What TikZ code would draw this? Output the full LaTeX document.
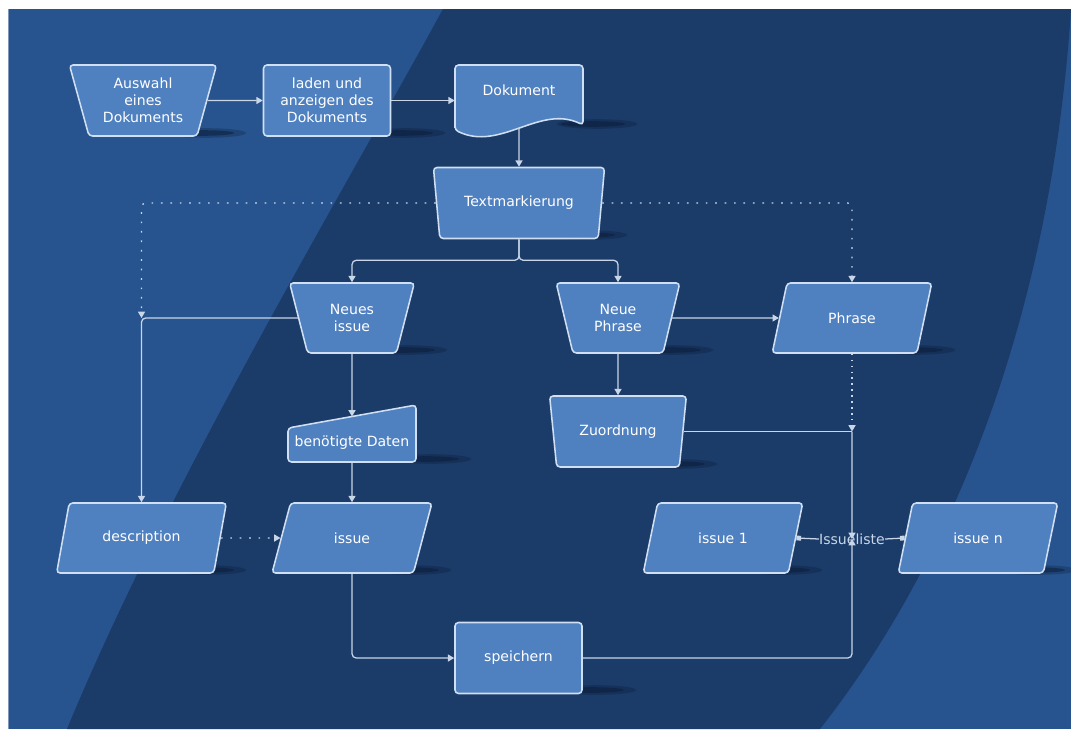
\documentclass[tikz,border=0pt]{standalone}
\usepackage{fontspec}
\setmainfont{DejaVu Sans}
\usetikzlibrary{arrows.meta,calc,shapes.geometric,positioning}
\definecolor{bglight}{RGB}{39,84,143}
\definecolor{bgdark}{RGB}{27,59,104}
\definecolor{boxfill}{RGB}{79,128,192}
\definecolor{boxline}{RGB}{208,224,242}
\definecolor{linecol}{RGB}{200,214,232}
\definecolor{shadowcol}{RGB}{10,28,56}

\begin{document}
\begin{tikzpicture}[x=0.025cm, y=-0.025cm,
  box/.style={draw=boxline, fill=boxfill, line width=1.1pt, rounded corners=2.5pt,
    text=white, align=center, inner sep=0pt, font=\fontsize{10}{12}\selectfont},
  trap/.style={box, trapezium, trapezium angle=72, shape border rotate=180,
    trapezium stretches=true, minimum height=71*\px},
  para/.style={box, trapezium, trapezium left angle=63.4, trapezium right angle=116.6,
    trapezium stretches=true, minimum width=160*\px, minimum height=70*\px},
  proc/.style={box, rectangle, minimum width=127*\px, minimum height=71*\px},
  bare/.style={inner sep=0pt, text=white, align=center, font=\fontsize{10}{12}\selectfont},
  plain/.style={draw=linecol, line width=0.9pt, rounded corners=3pt},
  flow/.style={plain, -{Triangle[length=4.5pt,width=5pt]}},
  dotflow/.style={flow, dash pattern=on 1.2pt off 5.5pt},
  link/.style={plain, {Square[length=3.4pt,width=3.4pt]}-},
]
  \def\px{0.025cm}

  % Background with the dark diagonal band
  \fill[white] (0,0) rectangle (1071,729);
  \fill[bglight] (8,9) rectangle (1071,729);
  \fill[bgdark] (443,9) .. controls (350,180) and (170,480) .. (67,729)
    -- (820,729) .. controls (945,570) and (1050,330) .. (1071,9) -- cycle;
  \draw[bglight!60!white, line width=0.6pt] (8.5,9) -- (8.5,729);
  \useasboundingbox (0,0) rectangle (1071,729);

  % Shadows under the shapes (bottom right corners)
  \foreach \sx/\sy in {192/136, 391/136, 583/127, 573/238, 393/353, 659/353, 901/353,
                       663/467, 417/462, 192/573, 397/573, 768/573, 1023/573, 582/693} {
    \fill[shadowcol, opacity=0.3] (\sx+14,\sy-3) ellipse [x radius=1.0cm, y radius=0.12cm];
    \fill[shadowcol, opacity=0.5] (\sx+10,\sy-3) ellipse [x radius=0.8cm, y radius=0.07cm];
  }

  % Top row
  \node[trap, minimum width=148*\px] (auswahl) at (143,100.5) {Auswahl\\eines\\Dokuments};
  \node[proc] (laden) at (327,100.5) {laden und\\anzeigen des\\Dokuments};
  \draw[box] (455,130) -- (455,65) -- (583,65) -- (583,125)
    .. controls (540,104) and (500,152) .. (455,130) -- cycle;
  \node[bare, minimum width=128*\px, minimum height=50*\px] (dok) at (519,90) {Dokument};
  \coordinate (dokfuss) at (519,128);

  \node[trap, minimum width=172*\px] (textmark) at (519,203) {Textmarkierung};

  % Middle row
  \node[trap, minimum width=125*\px, minimum height=70*\px] (neuissue) at (352,318) {Neues\\issue};
  \node[trap, minimum width=124*\px, minimum height=70*\px] (neuphrase) at (618,318) {Neue\\Phrase};
  \node[para] (phrase) at (852,318) {Phrase};
  \node[trap, minimum width=137*\px] (zuord) at (618,431.5) {Zuordnung};

  \draw[box] (288,462) -- (288,428) -- (416,405) -- (416,462) -- cycle;
  \node[bare, minimum width=128*\px, minimum height=38*\px] (daten) at (352,443) {benötigte Daten};
  \coordinate (datenkopf) at (352,416.5);

  % Bottom rows
  \node[para, minimum width=170*\px] (desc) at (141.5,538) {description};
  \node[para] (issue) at (352,538) {issue};
  \node[para] (issue1) at (723,538) {issue 1};
  \node[para] (issuen) at (978,538) {issue n};
  \node[bare, text=linecol] (liste) at (852,539) {Issueliste};
  \node[proc] (speichern) at (518.5,658) {speichern};

  % Connectors
  \draw[flow] (auswahl) -- (laden);
  \draw[flow] (laden.east) -- (laden.east -| dok.west);
  \draw[flow] (dokfuss) -- (textmark);
  \draw[flow] (textmark.south) -- ++(0,21) -| (neuissue.north);
  \draw[flow] (textmark.south) -- ++(0,21) -| (neuphrase.north);
  \draw[dotflow] (textmark.west) -| (desc.north |- neuissue.west);
  \draw[dotflow] (textmark.east) -| (phrase.north);
  \draw[flow] (neuissue.west) -| (desc.north);
  \draw[flow] (neuissue.south) -- (datenkopf);
  \draw[flow] (daten.south) -- (issue.north);
  \draw[flow] (neuphrase.east) -- (phrase.west);
  \draw[flow] (neuphrase.south) -- (zuord.north);
  \draw[dotflow, dash pattern=on 1.2pt off 3pt] (phrase.south) -- (phrase.south |- zuord.east);
  \draw[plain] (zuord.east) -- (phrase.south |- zuord.east);
  \draw[flow] (phrase.south |- zuord.east) -- (liste.center);
  \draw[dotflow] (desc.east) -- (issue.west);
  \draw[flow] (issue.south) |- (speichern.west);
  \draw[flow] (speichern.east) -| (liste.center);
  \draw[link] (issue1.east) -- (liste.west);
  \draw[link] (issuen.west) -- (liste.east);
\end{tikzpicture}
\end{document}
